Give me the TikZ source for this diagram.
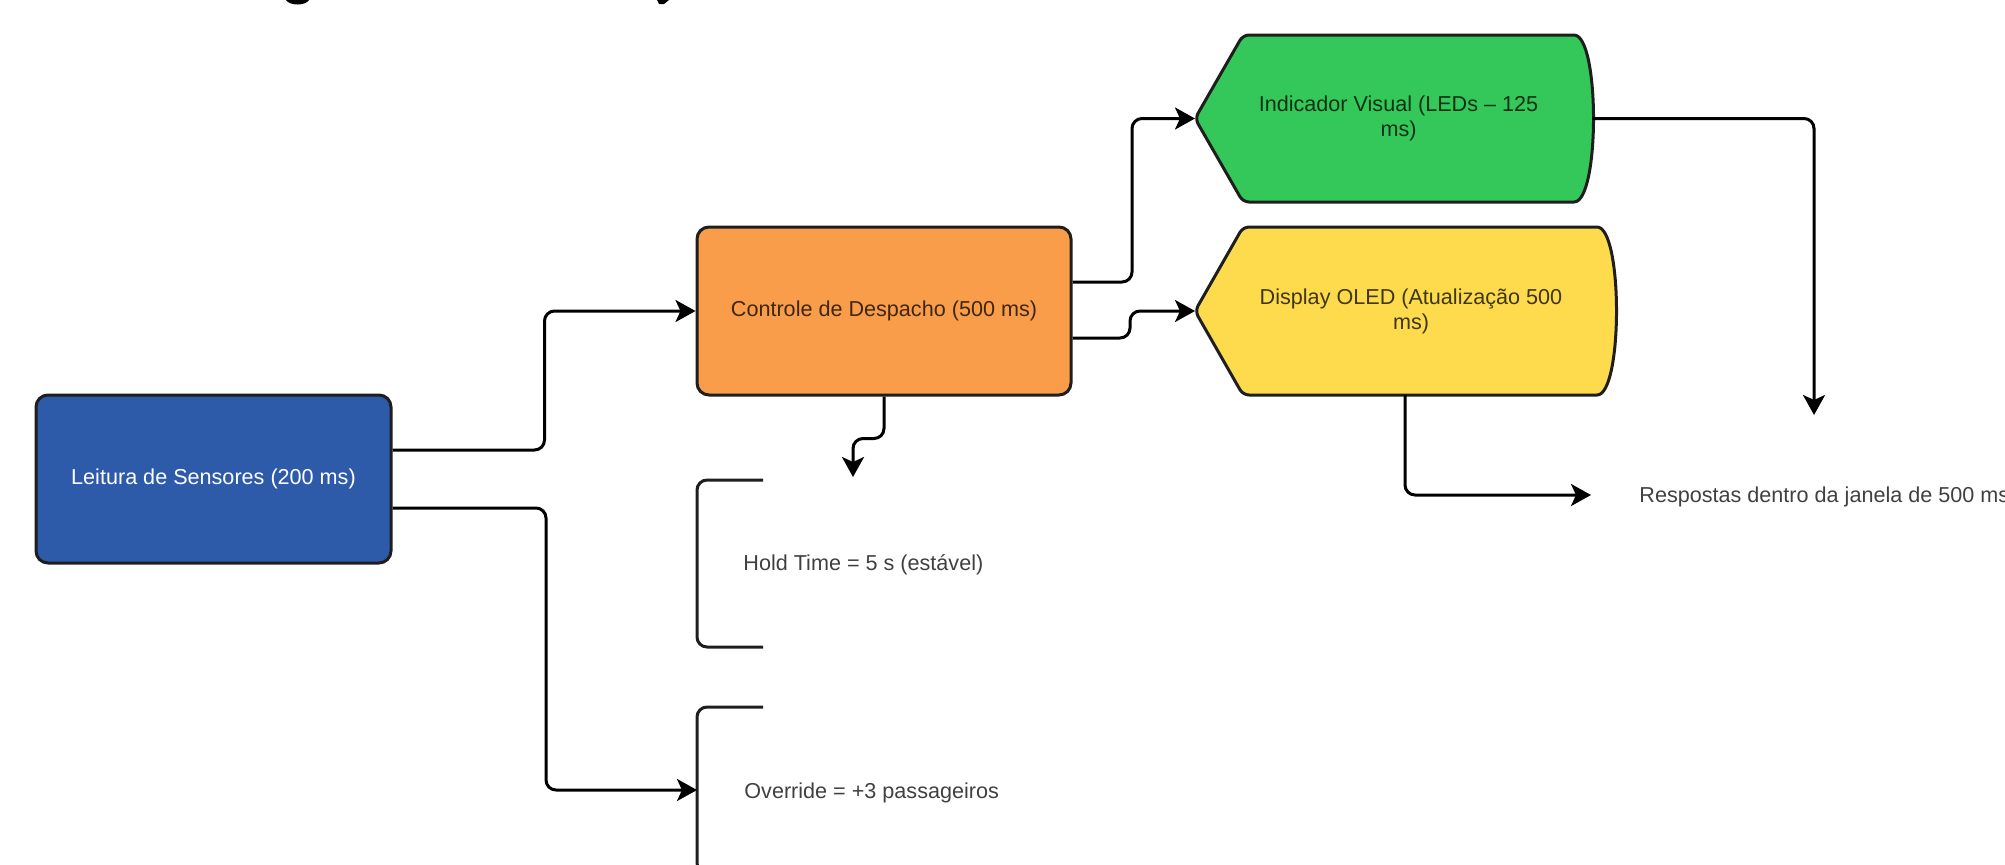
\documentclass[tikz,border=0pt]{standalone}
\usepackage{fontspec}
\setmainfont{Liberation Sans}
\usetikzlibrary{arrows.meta,calc}
\definecolor{cblue}{HTML}{2E5AAA}
\definecolor{corange}{HTML}{F99D4A}
\definecolor{cgreen}{HTML}{34C759}
\definecolor{cyellow}{HTML}{FDDB4D}
\definecolor{cborder}{HTML}{1E1E1E}
\newcommand\dgfont{\fontsize{10.8pt}{12.5pt}\selectfont}
\begin{document}
\begin{tikzpicture}[x=0.5pt,y=-0.5pt,
  box/.style={draw=cborder, line width=1.5pt, rounded corners=6pt, minimum height=84pt, inner sep=0pt, font=\dgfont},
  geom/.style={inner sep=0pt, outer sep=0pt},
  dshape/.style={draw=cborder, line width=1.5pt, rounded corners=3pt},
  dtext/.style={inner sep=0pt, font=\dgfont, text=black, text opacity=0.75},
  bracket/.style={draw=cborder, line width=1.5pt, rounded corners=5pt},
  conn/.style={draw=black, line width=1.5pt, rounded corners=5pt, -{Stealth[length=10pt,width=11pt,inset=2.5pt]}}
]
\useasboundingbox (0,0) rectangle (2005,864);
\begin{scope}
\clip (0,0) rectangle (2005,864);

% title fragments cut off at the top edge
\fill[black] (286,0) .. controls (290,6) and (305,6) .. (309,0) -- cycle;
\fill[black] (657,0) -- (669,0) -- (664,4) -- (659,4) -- cycle;

% main boxes
\node[box, fill=cblue, text=white, minimum width=177.5pt] (blue) at (213.5,479) {Leitura de Sensores (200 ms)};
\node[box, fill=corange, text=black, text opacity=0.75, minimum width=187pt] (orange) at (884,311) {Controle de Despacho (500 ms)};

% display shapes
\node[geom, minimum width=198.5pt, minimum height=83.5pt] (g) at (1393.5,118.5) {};
\node[geom, minimum width=210pt, minimum height=84pt] (y) at (1405,311) {};
\draw[dshape, fill=cgreen] (g.west) -- ($(g.north west)+(48,0)$) -- ($(g.north east)+(-24,0)$)
  .. controls ($(g.north east)+(8,0)$) and ($(g.south east)+(8,0)$) .. ($(g.south east)+(-24,0)$)
  -- ($(g.south west)+(48,0)$) -- cycle;
\draw[dshape, fill=cyellow] (y.west) -- ($(y.north west)+(48,0)$) -- ($(y.north east)+(-24,0)$)
  .. controls ($(y.north east)+(8,0)$) and ($(y.south east)+(8,0)$) .. ($(y.south east)+(-24,0)$)
  -- ($(y.south west)+(48,0)$) -- cycle;
\node[dtext, align=center] (gt) at ($(g.center)+(5,0)$) {Indicador Visual (LEDs – 125\\ms)};
\node[dtext, align=center] (yt) at ($(y.center)+(6,0)$) {Display OLED (Atualização 500\\ms)};

% annotation brackets
\node[geom, anchor=west, minimum width=150pt, minimum height=83.5pt] (hold) at (697,563.5) {};
\draw[bracket] ($(hold.north west)+(66,0)$) -- (hold.north west) -- (hold.south west) -- ($(hold.south west)+(66,0)$);
\node[dtext, anchor=base west] (holdt) at (743,570) {Hold Time = 5 s (estável)};

\node[geom, anchor=west, minimum width=150pt, minimum height=83pt] (ovr) at (697,790) {};
\draw[bracket] ($(ovr.north west)+(66,0)$) -- (ovr.north west) -- (ovr.south west) -- ($(ovr.south west)+(66,0)$);
\node[dtext, anchor=base west] (ovrt) at (744,798) {Override = +3 passageiros};

\node[dtext, anchor=base west] (resp) at (1639,502) {Respostas dentro da janela de 500 ms};

% free ends
\coordinate (d1) at (853,477);
\coordinate (r1) at (1814,415);
\coordinate (r2) at (1591,495);

% connectors
\draw[conn] ($(blue.east)+(0,-29)$) -| ($(orange.west)+(-151,0)$) -- (orange.west);
\draw[conn] ($(blue.east)+(0,29)$) -| ($(ovr.west)+(-151,0)$) -- (ovr.west);
\draw[conn] ($(orange.east)+(0,-29)$) -| ($(g.west)+(-63,0)$) -- (g.west);
\draw[conn] ($(orange.east)+(0,27)$) -| ($(y.west)+(-65,0)$) -- (y.west);
\draw[conn] (orange.south) -- ++(0,42) -| (d1);
\draw[conn] (g.east) -| (r1);
\draw[conn] (y.south) |- (r2);
\end{scope}
\end{tikzpicture}
\end{document}
